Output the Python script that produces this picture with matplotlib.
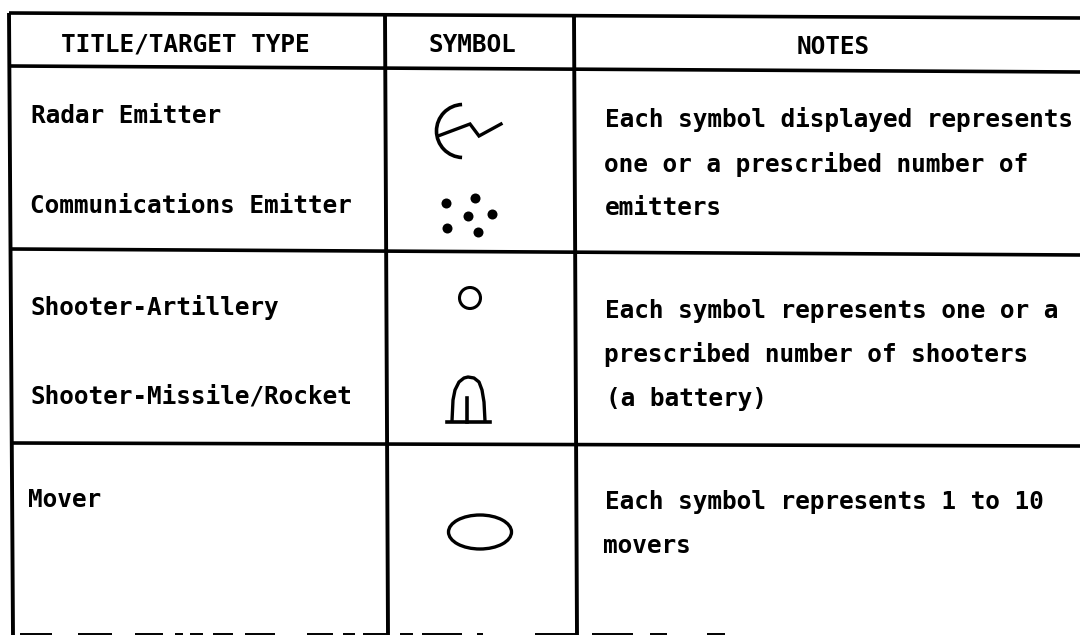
import matplotlib
matplotlib.use("Agg")
import matplotlib.pyplot as plt
from matplotlib.patches import Circle, Ellipse, Arc

headers = ["TITLE/TARGET TYPE", "SYMBOL", "NOTES"]
header_x = [61, 428, 797]
header_y = [51, 52, 54]

types = ["Radar Emitter", "Communications Emitter", "Shooter-Artillery",
         "Shooter-Missile/Rocket", "Mover"]
types_x = [31, 30, 30, 30, 28]
types_y = [123, 213, 315, 404, 507]

notes = ["Each symbol displayed represents", "one or a prescribed number of", "emitters",
         "Each symbol represents one or a", "prescribed number of shooters", "(a battery)",
         "Each symbol represents 1 to 10", "movers"]
notes_x = [605, 604, 605, 605, 604, 606, 605, 603]
notes_y = [127, 172, 215, 318, 362, 406, 509, 553]

# table rules in image pixels, the scan is a bit crooked: (left y, right y)
rows = [(13, 18), (66, 72), (249, 255), (443, 446)]
row_left = [9, 10, 11, 12]
# (top x, bottom x)
cols = [(9, 13), (385, 388), (574, 577)]
col_top = [13, 14, 15]

# what is left of the bottom rule at the edge of the scan
bottom_start = [20, 78, 135, 175, 190, 213, 245, 307, 343, 363, 400, 422, 477, 535, 592, 650, 707]
bottom_end = [52, 112, 163, 183, 203, 233, 275, 333, 355, 388, 413, 462, 483, 577, 633, 667, 725]

# symbols
dots_x = [446, 475, 468, 492, 447, 478]
dots_y = [203, 198, 216, 214, 228, 232]
zigzag_x = [438, 470, 479, 501]
zigzag_y = [136, 124, 136, 124]
dome_x = [452, 453, 455, 459, 464, 468, 474, 479, 482, 484, 485]
dome_y = [421, 400, 390, 382, 378, 377, 378, 382, 390, 402, 421]

fig = plt.figure(figsize=(10.8, 6.35), dpi=100)
ax = fig.add_axes([0, 0, 1, 1])
ax.set_xlim(0, 1080)
ax.set_ylim(635, 0)
ax.axis("off")

for (y0, y1), x0 in zip(rows, row_left):
    ax.plot([x0, 1080], [y0, y1], color="black", lw=2.6, solid_capstyle="butt")
for (x0, x1), t in zip(cols, col_top):
    ax.plot([x0, x1], [t, 635], color="black", lw=2.8, solid_capstyle="butt")
for s, e in zip(bottom_start, bottom_end):
    ax.plot([s, e], [634, 634], color="black", lw=1.4, solid_capstyle="butt")

font = dict(family="DejaVu Sans Mono", weight="bold", color="black", va="baseline", ha="left")
for h, x, y in zip(headers, header_x, header_y):
    ax.text(x, y, h, fontsize=17.55, **font)
for t, x, y in zip(types, types_x, types_y):
    ax.text(x, y, t, fontsize=17.55, **font)
for n, x, y in zip(notes, notes_x, notes_y):
    ax.text(x, y, n, fontsize=17.55, **font)

# radar emitter
ax.add_patch(Arc((463, 131), 53, 53, theta1=92, theta2=268, color="black", lw=2.6))
ax.plot(zigzag_x, zigzag_y, color="black", lw=2.4, solid_joinstyle="miter")
# comms emitter
ax.scatter(dots_x, dots_y, s=52, color="black", lw=0)
# artillery
ax.add_patch(Circle((470, 298), 10.5, fill=False, ec="black", lw=2.2))
# missile/rocket
ax.plot(dome_x, dome_y, color="black", lw=2.4)
ax.plot([447, 490], [422, 422], color="black", lw=2.6)
ax.plot([467, 467], [398, 422], color="black", lw=2.6)
# mover
ax.add_patch(Ellipse((480, 532), 63, 34, fill=False, ec="black", lw=2.4))

fig.savefig("out.png", dpi=100)
